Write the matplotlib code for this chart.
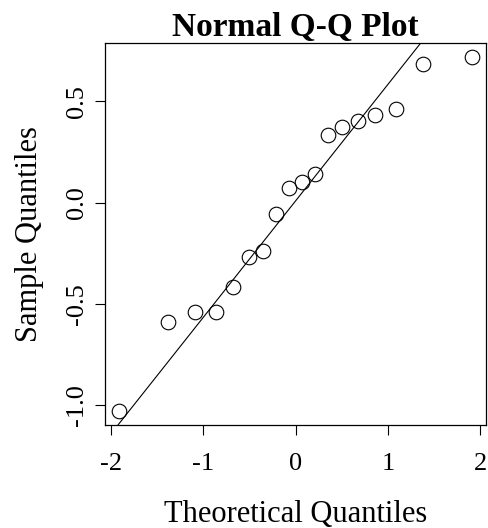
import numpy as np
import matplotlib
matplotlib.use("Agg")
import matplotlib.pyplot as plt

# theoretical normal quantiles (x) and sorted sample values (y)
theoretical = [-1.91, -1.38, -1.085, -0.86, -0.674, -0.508, -0.355, -0.21, -0.07,
               0.07, 0.21, 0.355, 0.508, 0.674, 0.86, 1.085, 1.38, 1.91]
sample = [-1.030, -0.591, -0.541, -0.541, -0.419, -0.267, -0.241, -0.056, 0.073,
          0.101, 0.142, 0.335, 0.376, 0.403, 0.431, 0.464, 0.683, 0.719]

x_ticks = [-2, -1, 0, 1, 2]
y_ticks = [-1.0, -0.5, 0.0, 0.5]

plt.rcParams['font.family'] = ['Liberation Serif', 'DejaVu Serif']

fig = plt.figure(figsize=(4.88, 5.28), dpi=100)
ax = fig.add_axes([105 / 488, 103 / 528, 381 / 488, 382 / 528])

ax.plot(theoretical, sample, linestyle='none', marker='o', markersize=10.5,
        markerfacecolor='none', markeredgecolor='black', markeredgewidth=0.8)

# qqline through the quartiles, like R's qqline()
y_q = np.quantile(sample, [0.25, 0.75])
x_q = np.array([-0.6745, 0.6745])
slope = (y_q[1] - y_q[0]) / (x_q[1] - x_q[0])
intercept = y_q[0] - slope * x_q[0]
ax.axline((0, intercept), slope=slope, color='black', linewidth=0.8)

# R style 4% padding
xr = max(theoretical) - min(theoretical)
yr = max(sample) - min(sample)
ax.set_xlim(min(theoretical) - 0.04 * xr, max(theoretical) + 0.04 * xr)
ax.set_ylim(min(sample) - 0.04 * yr, max(sample) + 0.04 * yr)

ax.set_xticks(x_ticks)
ax.set_xticklabels(['%g' % t for t in x_ticks])
ax.set_yticks(y_ticks)
ax.set_yticklabels(['%.1f' % t for t in y_ticks], rotation=90, va='center')

ax.tick_params(direction='out', length=7, width=0.8, labelsize=19)
ax.tick_params(axis='x', pad=13)
ax.tick_params(axis='y', pad=5)
for s in ax.spines.values():
    s.set_linewidth(0.9)

ax.set_title('Normal Q-Q Plot', fontsize=24, fontweight='bold', pad=2)
ax.set_xlabel('Theoretical Quantiles', fontsize=22, labelpad=18)
ax.set_ylabel('Sample Quantiles', fontsize=22, labelpad=16)

fig.savefig('out.png', dpi=100)
